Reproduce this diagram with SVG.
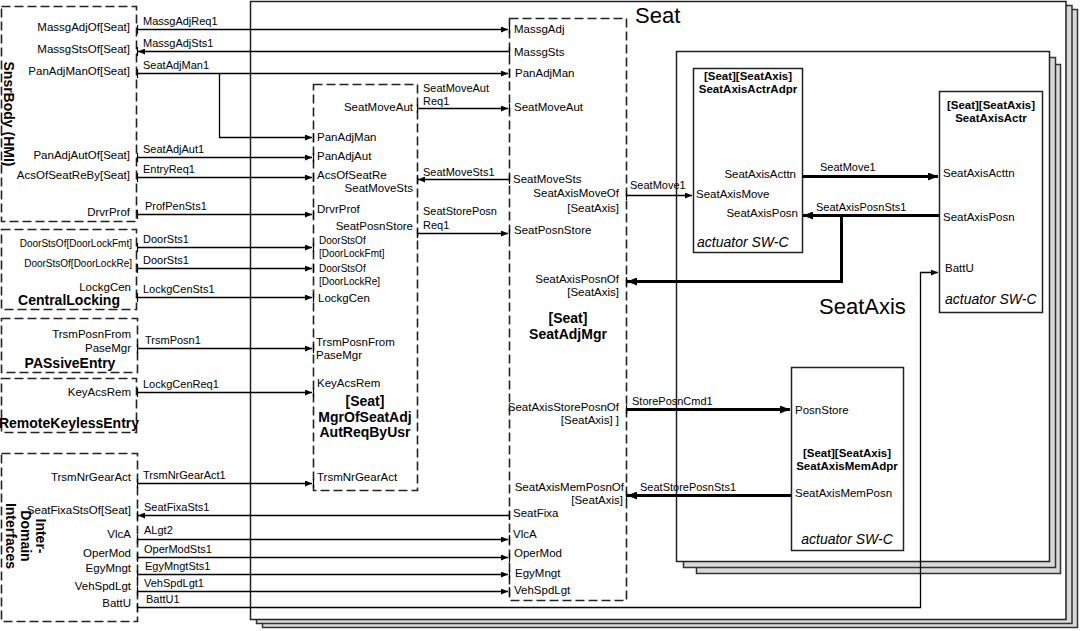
<svg xmlns="http://www.w3.org/2000/svg" width="1080" height="631" viewBox="0 0 1080 631">
<style>
text{font-family:"Liberation Sans",Arial,sans-serif;font-size:11.5px;fill:#000}
#connectors text{font-size:11px}
.s{font-size:10px}
.b{font-weight:bold;font-size:14px}
.bt{font-weight:bold;font-size:11.5px}
.i{font-style:italic;font-size:14px}
.big{font-size:22px}
.e{text-anchor:end}
.m{text-anchor:middle}
.dash{fill:none;stroke:#222;stroke-width:1.6;stroke-dasharray:9,4}
.box{fill:#fff;stroke:#222;stroke-width:1.5}
.back{fill:#d9d9d9;stroke:#333;stroke-width:1.5}
.c{fill:none;stroke:#000;stroke-width:1.3}
.t{fill:none;stroke:#000;stroke-width:3}
.k{stroke:#000;stroke-width:1.2}
</style>
<defs>
<marker id="a" viewBox="0 0 7 6" refX="7" refY="3" markerWidth="7" markerHeight="6" markerUnits="userSpaceOnUse" orient="auto"><path d="M0,0 L7,3 L0,6 z" fill="#000"/></marker>
<marker id="ab" viewBox="0 0 10 8" refX="10" refY="4" markerWidth="10" markerHeight="8" markerUnits="userSpaceOnUse" orient="auto"><path d="M0,0 L10,4 L0,8 z" fill="#000"/></marker>
</defs>
<rect width="1080" height="631" fill="#fff"/>

<g id="seat-frame">
<rect class="back" x="262.5" y="9.5" width="815" height="618"/>
<rect class="back" x="256.5" y="5.5" width="815.5" height="618"/>
<rect class="box" x="250.5" y="1.5" width="815.5" height="618"/>
<text class="big" x="635" y="23">Seat</text>
</g>

<g id="seataxis-frame">
<rect class="back" x="696.5" y="64.5" width="364" height="509"/>
<rect class="back" x="683.5" y="57.5" width="372" height="510"/>
<rect class="box" x="676.5" y="51.5" width="373" height="510"/>
<text class="big" x="819" y="314">SeatAxis</text>
</g>

<g id="snsrbody-hmi">
<rect class="dash" x="1.5" y="6.5" width="135" height="215"/>
<text class="b m" transform="translate(3.5,114) rotate(90)">SnsrBody (HMI)</text>
<text class="e" x="130" y="31">MassgAdjOf[Seat]</text>
<text class="e" x="130" y="53">MassgStsOf[Seat]</text>
<text class="e" x="130" y="75">PanAdjManOf[Seat]</text>
<text class="e" x="130" y="159">PanAdjAutOf[Seat]</text>
<text class="e" x="130" y="179">AcsOfSeatReBy[Seat]</text>
<text class="e" x="130" y="216">DrvrProf</text>
</g>

<g id="centrallocking">
<rect class="dash" x="1.5" y="229.5" width="135" height="80"/>
<text class="s e" x="132" y="247">DoorStsOf[DoorLockFmt]</text>
<text class="s e" x="132" y="267">DoorStsOf[DoorLockRe]</text>
<text class="e" x="131" y="291">LockgCen</text>
<text class="b m" x="69" y="305">CentralLocking</text>
</g>

<g id="passiveentry">
<rect class="dash" x="1.5" y="318.5" width="136" height="54"/>
<text class="e" x="131" y="338">TrsmPosnFrom</text>
<text class="e" x="131" y="352">PaseMgr</text>
<text class="b m" x="70" y="368">PASsiveEntry</text>
</g>

<g id="remotekeylessentry">
<rect class="dash" x="1.5" y="378.5" width="135" height="54"/>
<text class="e" x="131" y="396">KeyAcsRem</text>
<text class="b m" x="69" y="428">RemoteKeylessEntry</text>
</g>

<g id="inter-domain-interfaces">
<rect class="dash" x="1.5" y="453.5" width="136" height="168"/>
<text class="b m" transform="translate(36,536) rotate(90)">Inter-</text>
<text class="b m" transform="translate(21,536) rotate(90)">Domain</text>
<text class="b m" transform="translate(5.5,536) rotate(90)">Interfaces</text>
<text class="e" x="131" y="481">TrsmNrGearAct</text>
<text class="e" x="131" y="514">SeatFixaStsOf[Seat]</text>
<text class="e" x="131" y="538">VlcA</text>
<text class="e" x="131" y="557">OperMod</text>
<text class="e" x="131" y="572">EgyMngt</text>
<text class="e" x="131" y="590">VehSpdLgt</text>
<text class="e" x="131" y="607">BattU</text>
</g>

<g id="mgrofseatadjautreqbyusr">
<rect class="dash" x="313.5" y="84.5" width="104" height="406"/>
<text class="e" x="413" y="111">SeatMoveAut</text>
<text x="317" y="141">PanAdjMan</text>
<text x="317" y="160">PanAdjAut</text>
<text x="317" y="179">AcsOfSeatRe</text>
<text class="e" x="413" y="192">SeatMoveSts</text>
<text x="317" y="213">DrvrProf</text>
<text class="e" x="413" y="230">SeatPosnStore</text>
<text class="s" x="319" y="244">DoorStsOf</text>
<text class="s" x="319" y="257">[DoorLockFmt]</text>
<text class="s" x="319" y="272">DoorStsOf</text>
<text class="s" x="319" y="285">[DoorLockRe]</text>
<text x="318" y="302">LockgCen</text>
<text x="316" y="346">TrsmPosnFrom</text>
<text x="316" y="359">PaseMgr</text>
<text x="317" y="387">KeyAcsRem</text>
<text class="b m" x="365" y="406">[Seat]</text>
<text class="b m" x="365" y="422">MgrOfSeatAdj</text>
<text class="b m" x="365" y="437">AutReqByUsr</text>
<text x="317" y="481">TrsmNrGearAct</text>
</g>

<g id="seatadjmgr">
<rect class="dash" x="509.5" y="18.5" width="117" height="582"/>
<text x="514" y="33">MassgAdj</text>
<text x="514" y="56">MassgSts</text>
<text x="515" y="77">PanAdjMan</text>
<text x="514" y="111">SeatMoveAut</text>
<text x="513" y="183">SeatMoveSts</text>
<text class="e" x="619" y="197">SeatAxisMoveOf</text>
<text class="e" x="619" y="212">[SeatAxis]</text>
<text x="514" y="234">SeatPosnStore</text>
<text class="e" x="619" y="283">SeatAxisPosnOf</text>
<text class="e" x="619" y="296">[SeatAxis]</text>
<text class="b m" x="568" y="323">[Seat]</text>
<text class="b m" x="568" y="339">SeatAdjMgr</text>
<text class="e" x="619" y="411">SeatAxisStorePosnOf</text>
<text class="e" x="619" y="424">[SeatAxis] ]</text>
<text class="e" x="624" y="491">SeatAxisMemPosnOf</text>
<text class="e" x="623" y="504">[SeatAxis]</text>
<text x="513" y="517">SeatFixa</text>
<text x="513" y="538">VlcA</text>
<text x="514" y="557">OperMod</text>
<text x="515" y="577">EgyMngt</text>
<text x="514" y="594">VehSpdLgt</text>
</g>

<g id="seataxisactradpr">
<rect class="box" x="693.5" y="68.5" width="109" height="184"/>
<text class="bt m" x="748" y="80">[Seat][SeatAxis]</text>
<text class="bt m" x="748" y="93">SeatAxisActrAdpr</text>
<text class="e" x="796" y="178">SeatAxisActtn</text>
<text x="696" y="198">SeatAxisMove</text>
<text class="e" x="798" y="217">SeatAxisPosn</text>
<text class="i" x="697" y="247">actuator SW-C</text>
</g>

<g id="seataxisactr">
<rect class="box" x="939.5" y="91.5" width="103" height="221"/>
<text class="bt m" x="991" y="109">[Seat][SeatAxis]</text>
<text class="bt m" x="991" y="122">SeatAxisActr</text>
<text x="943" y="177">SeatAxisActtn</text>
<text x="943" y="221">SeatAxisPosn</text>
<text x="945" y="272">BattU</text>
<text class="i" x="945" y="304">actuator SW-C</text>
</g>

<g id="seataxismemadpr">
<rect class="box" x="791.5" y="367.5" width="112" height="183"/>
<text x="795" y="414">PosnStore</text>
<text class="bt m" x="847" y="457">[Seat][SeatAxis]</text>
<text class="bt m" x="847" y="470">SeatAxisMemAdpr</text>
<text x="795" y="497">SeatAxisMemPosn</text>
<text class="i m" x="847" y="544">actuator SW-C</text>
</g>

<g id="connectors">
<path class="c" d="M137,29.5 H508" marker-end="url(#a)"/>
<path class="c" d="M509,51.5 H138" marker-end="url(#a)"/>
<path class="c" d="M137,73.5 H508" marker-end="url(#a)"/>
<path class="c" d="M219.5,73.5 V137.5 H312" marker-end="url(#a)"/>
<path class="c" d="M137,157.5 H312" marker-end="url(#a)"/>
<path class="c" d="M137,177.5 H312" marker-end="url(#a)"/>
<path class="c" d="M137,214.5 H312" marker-end="url(#a)"/>
<path class="c" d="M137,247.5 H312" marker-end="url(#a)"/>
<path class="c" d="M137,268.5 H312" marker-end="url(#a)"/>
<path class="c" d="M137,297.5 H312" marker-end="url(#a)"/>
<path class="c" d="M137,348.5 H312" marker-end="url(#a)"/>
<path class="c" d="M137,392.5 H312" marker-end="url(#a)"/>
<path class="c" d="M137,483.5 H312" marker-end="url(#a)"/>
<path class="c" d="M509,515.5 H138" marker-end="url(#a)"/>
<path class="c" d="M137,539.5 H508" marker-end="url(#a)"/>
<path class="c" d="M137,557.5 H508" marker-end="url(#a)"/>
<path class="c" d="M137,574.5 H508" marker-end="url(#a)"/>
<path class="c" d="M137,591.5 H508" marker-end="url(#a)"/>
<path class="c" d="M137,607.5 H920.5 V272.5 H938" marker-end="url(#a)"/>
<path class="c" d="M417,108.5 H508" marker-end="url(#a)"/>
<path class="c" d="M509,179.5 H418" marker-end="url(#a)"/>
<path class="c" d="M417,233.5 H508" marker-end="url(#a)"/>
<path class="c" d="M626,195.5 H692" marker-end="url(#a)"/>
<path class="t" d="M802,176.5 H938" marker-end="url(#ab)"/>
<path class="t" d="M939,215.5 H803" marker-end="url(#ab)"/>
<path class="t" d="M841.5,215.5 V281.5 H627" marker-end="url(#ab)"/>
<path class="t" d="M626,409.5 H790" marker-end="url(#ab)"/>
<path class="t" d="M791,495.5 H627" marker-end="url(#ab)"/>
<g class="k">
<line x1="137.5" y1="25" x2="137.5" y2="34"/>
<line x1="137.5" y1="47" x2="137.5" y2="56"/>
<line x1="137.5" y1="69" x2="137.5" y2="78"/>
<line x1="137.5" y1="153" x2="137.5" y2="162"/>
<line x1="137.5" y1="173" x2="137.5" y2="182"/>
<line x1="137.5" y1="210" x2="137.5" y2="219"/>
<line x1="137.5" y1="243" x2="137.5" y2="252"/>
<line x1="137.5" y1="264" x2="137.5" y2="273"/>
<line x1="137.5" y1="293" x2="137.5" y2="302"/>
<line x1="137.5" y1="344" x2="137.5" y2="353"/>
<line x1="137.5" y1="388" x2="137.5" y2="397"/>
<line x1="137.5" y1="479" x2="137.5" y2="488"/>
<line x1="137.5" y1="511" x2="137.5" y2="520"/>
<line x1="137.5" y1="535" x2="137.5" y2="544"/>
<line x1="137.5" y1="553" x2="137.5" y2="562"/>
<line x1="137.5" y1="570" x2="137.5" y2="579"/>
<line x1="137.5" y1="587" x2="137.5" y2="596"/>
<line x1="137.5" y1="603" x2="137.5" y2="612"/>
<line x1="313.5" y1="133" x2="313.5" y2="142"/>
<line x1="313.5" y1="153" x2="313.5" y2="162"/>
<line x1="313.5" y1="173" x2="313.5" y2="182"/>
<line x1="313.5" y1="210" x2="313.5" y2="219"/>
<line x1="313.5" y1="243" x2="313.5" y2="252"/>
<line x1="313.5" y1="264" x2="313.5" y2="273"/>
<line x1="313.5" y1="293" x2="313.5" y2="302"/>
<line x1="313.5" y1="344" x2="313.5" y2="353"/>
<line x1="313.5" y1="388" x2="313.5" y2="397"/>
<line x1="313.5" y1="479" x2="313.5" y2="488"/>
<line x1="417.5" y1="104" x2="417.5" y2="113"/>
<line x1="417.5" y1="175" x2="417.5" y2="184"/>
<line x1="417.5" y1="229" x2="417.5" y2="238"/>
<line x1="509.5" y1="25" x2="509.5" y2="34"/>
<line x1="509.5" y1="47" x2="509.5" y2="56"/>
<line x1="509.5" y1="69" x2="509.5" y2="78"/>
<line x1="509.5" y1="104" x2="509.5" y2="113"/>
<line x1="509.5" y1="175" x2="509.5" y2="184"/>
<line x1="509.5" y1="229" x2="509.5" y2="238"/>
<line x1="509.5" y1="511" x2="509.5" y2="520"/>
<line x1="509.5" y1="535" x2="509.5" y2="544"/>
<line x1="509.5" y1="553" x2="509.5" y2="562"/>
<line x1="509.5" y1="570" x2="509.5" y2="579"/>
<line x1="509.5" y1="587" x2="509.5" y2="596"/>
<line x1="626.5" y1="191" x2="626.5" y2="200"/>
<line x1="626.5" y1="277" x2="626.5" y2="286"/>
<line x1="626.5" y1="405" x2="626.5" y2="414"/>
<line x1="626.5" y1="491" x2="626.5" y2="500"/>
</g>
<text x="143" y="25">MassgAdjReq1</text>
<text x="143" y="47">MassgAdjSts1</text>
<text x="143" y="69">SeatAdjMan1</text>
<text x="143" y="153">SeatAdjAut1</text>
<text x="143" y="173">EntryReq1</text>
<text x="145" y="210">ProfPenSts1</text>
<text x="143" y="243">DoorSts1</text>
<text x="143" y="264">DoorSts1</text>
<text x="143" y="293">LockgCenSts1</text>
<text x="145" y="344">TrsmPosn1</text>
<text x="143" y="388">LockgCenReq1</text>
<text x="143" y="479">TrsmNrGearAct1</text>
<text x="144" y="511">SeatFixaSts1</text>
<text x="144" y="534">ALgt2</text>
<text x="144" y="553">OperModSts1</text>
<text x="145" y="570">EgyMngtSts1</text>
<text x="144" y="587">VehSpdLgt1</text>
<text x="146" y="603">BattU1</text>
<text x="423" y="92">SeatMoveAut</text>
<text x="423" y="105">Req1</text>
<text x="423" y="176">SeatMoveSts1</text>
<text x="423" y="215">SeatStorePosn</text>
<text x="423" y="229">Req1</text>
<text x="630" y="189">SeatMove1</text>
<text x="820" y="171">SeatMove1</text>
<text x="816" y="211">SeatAxisPosnSts1</text>
<text x="632" y="405">StorePosnCmd1</text>
<text x="640" y="491">SeatStorePosnSts1</text>
</g>
</svg>
